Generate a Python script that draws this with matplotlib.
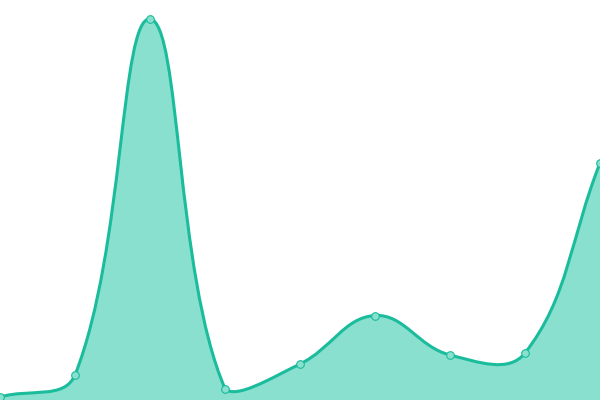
import numpy as np
import matplotlib
matplotlib.use("Agg")
import matplotlib.pyplot as plt
from matplotlib.path import Path
from matplotlib.patches import PathPatch

# Data
x_vals = [0, 1, 2, 3, 4, 5, 6, 7, 8]
y_vals = [3, 25, 381, 11.5, 36, 84.5, 45, 47, 237]

LINE = "#1abc9c"
FILL = "#8ae0cf"

fig = plt.figure(figsize=(6, 4), dpi=100)
ax = fig.add_axes([0, 0, 1, 1])
ax.set_xlim(0, 8)
ax.set_ylim(0, 400)
ax.axis("off")

# Compute spline (Chart.js-style, tension 0.4) in display space
disp = ax.transData.transform(np.column_stack([x_vals, y_vals]))
bbox = ax.bbox
n = len(disp)
t = 0.4
cps = []
for i in range(n):
    prev = disp[i - 1] if i > 0 else disp[i]
    cur = disp[i]
    nxt = disp[i + 1] if i < n - 1 else disp[i]
    d01 = np.hypot(*(cur - prev))
    d12 = np.hypot(*(nxt - cur))
    tot = d01 + d12
    s01 = d01 / tot if tot else 0
    s12 = d12 / tot if tot else 0
    fa = t * s01
    fb = t * s12
    cp1 = cur - fa * (nxt - prev)
    cp2 = cur + fb * (nxt - prev)
    # cap control points to the plotting area
    for cp in (cp1, cp2):
        cp[0] = min(max(cp[0], bbox.x0), bbox.x1)
        cp[1] = min(max(cp[1], bbox.y0), bbox.y1)
    cps.append((cp1, cp2))

inv = ax.transData.inverted()
verts = [disp[0]]
codes = [Path.MOVETO]
for i in range(n - 1):
    verts += [cps[i][1], cps[i + 1][0], disp[i + 1]]
    codes += [Path.CURVE4] * 3
verts_data = inv.transform(np.array(verts))

line_path = Path(verts_data, codes)
fill_verts = list(verts_data) + [(x_vals[-1], 0), (x_vals[0], 0), verts_data[0]]
fill_codes = codes + [Path.LINETO, Path.LINETO, Path.CLOSEPOLY]
fill_path = Path(fill_verts, fill_codes)

ax.add_patch(PathPatch(fill_path, facecolor=FILL, edgecolor="none", zorder=1))
ax.add_patch(PathPatch(line_path, facecolor="none", edgecolor=LINE, linewidth=2.2, zorder=2))
ax.plot(x_vals, y_vals, linestyle="none", marker="o", markersize=5.5,
        markerfacecolor=FILL, markeredgecolor=LINE, markeredgewidth=0.8, zorder=3)

fig.savefig("out.png", dpi=100)
